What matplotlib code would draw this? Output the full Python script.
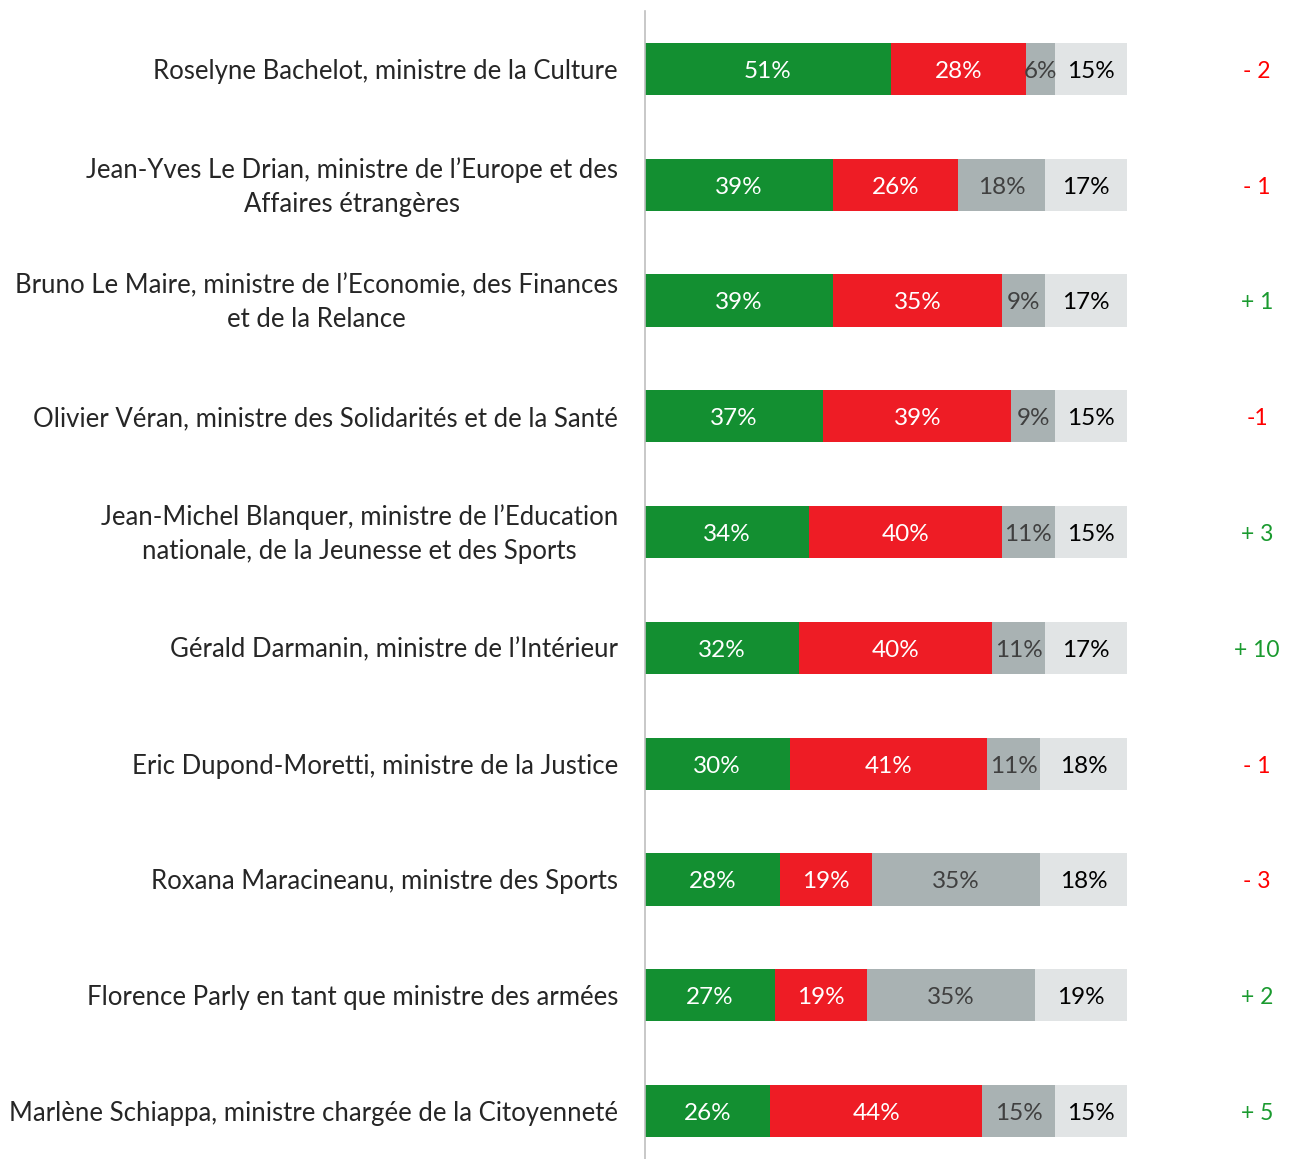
import matplotlib.pyplot as plt
import numpy as np

plt.rcParams['font.family'] = ['Lato', 'DejaVu Sans']

names = [
    "Roselyne Bachelot, ministre de la Culture",
    "Jean-Yves Le Drian, ministre de l\u2019Europe et des\nAffaires étrangères",
    "Bruno Le Maire, ministre de l\u2019Economie, des Finances\net de la Relance",
    "Olivier Véran, ministre des Solidarités et de la Santé",
    "Jean-Michel Blanquer, ministre de l\u2019Education\nnationale, de la Jeunesse et des Sports",
    "Gérald Darmanin, ministre de l\u2019Intérieur",
    "Eric Dupond-Moretti, ministre de la Justice",
    "Roxana Maracineanu, ministre des Sports",
    "Florence Parly en tant que ministre des armées",
    "Marlène Schiappa, ministre chargée de la Citoyenneté",
]
good = [51, 39, 39, 37, 34, 32, 30, 28, 27, 26]
bad = [28, 26, 35, 39, 40, 40, 41, 19, 19, 44]
unknown = [6, 18, 9, 9, 11, 11, 11, 35, 35, 15]
noreply = [15, 17, 17, 15, 15, 17, 18, 18, 19, 15]
change = ["- 2", "- 1", "+ 1", "-1", "+ 3", "+ 10", "- 1", "- 3", "+ 2", "+ 5"]

series = [good, bad, unknown, noreply]
colors = ["#138F31", "#EE1C25", "#A9B2B3", "#E1E4E5"]
txt_colors = ["white", "white", "#404040", "black"]

W, H = 1292, 1159
fig = plt.figure(figsize=(W / 100, H / 100), dpi=100)
ax = fig.add_axes([645 / W, 0, 482 / W, (H - 11) / H])

y = np.arange(len(names))
left = np.zeros(len(names))
for vals, c, tc in zip(series, colors, txt_colors):
    vals = np.array(vals)
    ax.barh(y, vals, left=left, height=0.45, color=c)
    for yi, l, v in zip(y, left, vals):
        ax.text(l + v / 2, yi + 0.02, f"{v}%", ha="center", va="center",
                color=tc, fontsize=17.5)
    left += vals

for yi, n in zip(y, names):
    ax.text(-5.6, yi + 0.02, n, ha="right", va="center", multialignment="center",
            fontsize=18.5, color="#262626", linespacing=1.45)

for yi, ch in zip(y, change):
    col = "#1A9A2F" if ch.startswith("+") else "#FF0000"
    ax.text(127, yi + 0.02, ch, ha="center", va="center", color=col,
            fontsize=16.5, clip_on=False)

ax.set_xlim(0, 100)
ax.set_ylim(9.413, -0.5)
for s in ["top", "right", "bottom"]:
    ax.spines[s].set_visible(False)
ax.spines["left"].set_color("#BFBFBF")
ax.spines["left"].set_linewidth(1.2)
ax.set_xticks([])
ax.set_yticks([])

fig.savefig("out.png", dpi=100)
